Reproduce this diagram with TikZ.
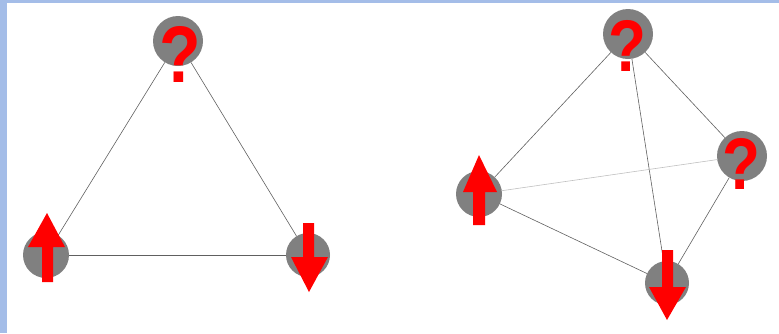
\documentclass[tikz,border=0pt]{standalone}
\usepackage{fontspec}
\usepackage{graphicx}
\newfontfamily\qfont{Liberation Sans}[BoldFont={Liberation Sans Bold}]
\definecolor{frameblue}{HTML}{A4BDE8}
\definecolor{spin}{HTML}{FF0000}
\definecolor{ball}{HTML}{808080}
\definecolor{edge}{HTML}{606060}
\definecolor{lightedge}{HTML}{C0C0C0}
\begin{document}
\begin{tikzpicture}[x=1pt,y=-1pt,
  site/.style={circle,fill=ball,inner sep=0pt,minimum size=#1},
  qmark/.style={text=spin,inner sep=0pt,font=\qfont\bfseries\fontsize{#1}{#1}\selectfont},
  bond/.style={draw=edge,line width=0.6pt},
  weakbond/.style={draw=lightedge,line width=0.6pt},
  spinfill/.style={fill=spin}]
\useasboundingbox (0,0) rectangle (779,333);
\fill[frameblue] (0,0) rectangle (779,3);
\fill[frameblue] (0,0) rectangle (7,333);
% left triangle
\node[site=50pt] (lt) at (178,41) {};
\node[site=46pt] (lbl) at (46,255) {};
\node[site=44pt] (lbr) at (308,255) {};
% right tetrahedron
\node[site=50pt] (rt) at (628,34) {};
\node[site=50pt] (rr) at (742,156) {};
\node[site=46pt] (rl) at (479,194) {};
\node[site=44pt] (rb) at (667,283) {};
% bonds
\path[bond] (lt) -- (lbl);
\path[bond] (lt) -- (lbr);
\path[bond] (lbl) -- (lbr);
\path[bond] (rt) -- (rl);
\path[bond] (rt) -- (rr);
\path[bond] (rt) -- (rb);
\path[weakbond] (rl) -- (rr);
\path[bond] (rl) -- (rb);
\path[bond] (rr) -- (rb);
% spins
\node[qmark=68] (q1) at (180,54) {\scalebox{1}[1.18]{?}};
\node[qmark=62] (q2) at (627,46) {\scalebox{1}[1.18]{?}};
\node[qmark=62] (q3) at (741,164) {\scalebox{1}[1.18]{?}};
\fill[spinfill] (47,213) -- (65,247) -- (53,247) -- (53,282) -- (42,282) -- (42,247) -- (28,247) -- cycle;
\fill[spinfill] (309,292) -- (328,257) -- (314,257) -- (314,223) -- (303,223) -- (303,257) -- (291,257) -- cycle;
\fill[spinfill] (479,155) -- (497,192) -- (485,192) -- (485,225) -- (473,225) -- (473,192) -- (463,192) -- cycle;
\fill[spinfill] (667,320) -- (686,287) -- (673,287) -- (673,250) -- (662,250) -- (662,287) -- (649,287) -- cycle;
\end{tikzpicture}
\end{document}
